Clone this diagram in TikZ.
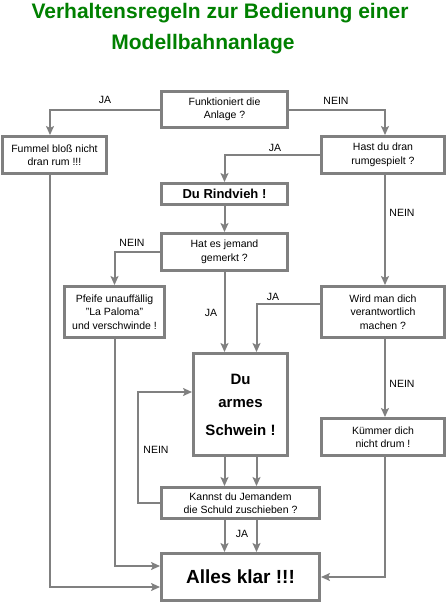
\documentclass[tikz,border=0pt]{standalone}
\usepackage{fontspec}
\setmainfont{Liberation Sans}
\usetikzlibrary{arrows.meta}
\definecolor{linegray}{RGB}{128,128,128}
\definecolor{titlegreen}{RGB}{0,128,0}
\begin{document}
\begin{tikzpicture}[x=1pt,y=-1pt,
  box/.style={draw=linegray, line width=3pt, fill=white, inner sep=0pt, align=center,
    font=\fontsize{10.5}{13.5}\selectfont},
  bigbox/.style={box, font=\bfseries\fontsize{15}{23}\selectfont},
  conn/.style={draw=linegray, line width=2pt},
  arr/.style={conn, -{Stealth[length=9pt,width=8pt,inset=2pt]}},
  lbl/.style={inner sep=0pt, font=\fontsize{10.5}{13.5}\selectfont},
  titletext/.style={inner sep=0pt, anchor=base, text=titlegreen, font=\bfseries\fontsize{21}{24}\selectfont}]
\useasboundingbox (0,0) rectangle (447,606);
\fill[white] (0,0) rectangle (447,606);
% title
\node[titletext] (t1) at (220,18.5) {Verhaltensregeln zur Bedienung einer};
\node[titletext] (t2) at (203,49.5) {Modellbahnanlage};
% boxes
\node[box, minimum width=126pt, minimum height=36pt] (f) at (224.5,109.5) {Funktioniert die\\Anlage ?};
\node[box, minimum width=104pt, minimum height=37pt] (fummel) at (54.5,155) {Fummel bloß nicht\\dran rum !!!};
\node[box, minimum width=123pt, minimum height=37pt] (hast) at (383,155) {Hast du dran\\rumgespielt ?};
\node[box, minimum width=126pt, minimum height=21pt, font=\bfseries\fontsize{13}{15}\selectfont] (rind) at (224.5,194) {Du Rindvieh !};
\node[box, minimum width=126pt, minimum height=37pt] (hat) at (224.5,252) {Hat es jemand\\gemerkt ?};
\node[box, minimum width=100pt, minimum height=51pt] (pfeife) at (114.5,312) {Pfeife unauffällig\\"La Paloma"\\und verschwinde !};
\node[box, minimum width=123pt, minimum height=51pt] (wird) at (383,312) {Wird man dich\\verantwortlich\\machen ?};
\node[bigbox, minimum width=94pt, minimum height=102pt] (schwein) at (240.5,404.5) {Du\\armes\\[5pt]Schwein !};
\node[box, minimum width=123pt, minimum height=37pt] (kuemmer) at (383,437) {Kümmer dich\\nicht drum !};
\node[box, minimum width=158pt, minimum height=31pt] (kannst) at (240.5,503) {Kannst du Jemandem\\die Schuld zuschieben ?};
\node[box, minimum width=158pt, minimum height=47pt, font=\bfseries\fontsize{19}{23}\selectfont] (alles) at (240.5,577) {Alles klar !!!};
% connectors
\draw[arr] (f.west) -| ([xshift=-4.5pt]fummel.north);
\draw[arr] (f.east) -| ([xshift=2pt]hast.north);
\draw[arr] (hast.west) -| (rind.north);
\draw[arr] (rind.south) -- (hat.north);
\draw[arr] (hat.west) -| (pfeife.north);
\draw[arr] (hat.south) -- ([xshift=-16pt]schwein.north);
\draw[arr] ([xshift=2pt]hast.south) -- ([xshift=2pt]wird.north);
\draw[arr] ([yshift=8pt]wird.west) -| ([xshift=16pt]schwein.north);
\draw[arr] ([xshift=2pt]wird.south) -- ([xshift=2pt]kuemmer.north);
\draw[arr] ([xshift=-16pt]schwein.south) -- ([xshift=-16pt]kannst.north);
\draw[arr] ([xshift=16pt]schwein.south) -- ([xshift=16pt]kannst.north);
\draw[arr] (kannst.west) -- ++(-22,0) |- ([yshift=12.5pt]schwein.west);
\draw[arr] ([xshift=-16pt]kannst.south) -- ([xshift=-16pt]alles.north);
\draw[arr] ([xshift=16pt]kannst.south) -- ([xshift=16pt]alles.north);
\draw[arr] (pfeife.south) |- ([yshift=11pt]alles.west);
\draw[arr] ([xshift=-4.5pt]fummel.south) |- ([yshift=-10pt]alles.west);
\draw[arr] ([xshift=2pt]kuemmer.south) |- (alles.east);
% labels
\node[lbl] (l1) at (105,100) {JA};
\node[lbl] (l2) at (336,101) {NEIN};
\node[lbl] (l3) at (275,148) {JA};
\node[lbl] (l4) at (402,213) {NEIN};
\node[lbl] (l5) at (132,243) {NEIN};
\node[lbl] (l6) at (211,313) {JA};
\node[lbl] (l7) at (273,297) {JA};
\node[lbl] (l8) at (402,384) {NEIN};
\node[lbl] (l9) at (156,450) {NEIN};
\node[lbl] (l10) at (242,534) {JA};
\end{tikzpicture}
\end{document}
